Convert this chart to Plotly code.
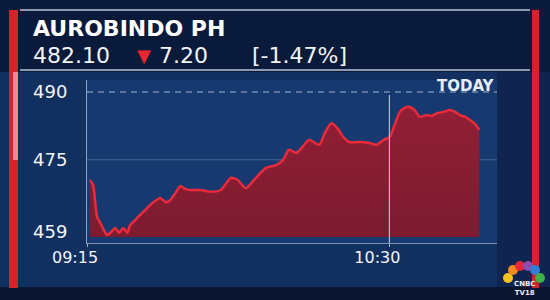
import plotly.graph_objects as go

# ---- data ----
stock_name = "AUROBINDO PH"
last_price = "482.10"
change = "7.20"
change_pct = "[-1.47%]"
period_label = "TODAY"

minutes = [0.7, 1.5, 2.5, 3.2, 4.2, 5.0, 6.0, 7.0, 8.0, 9.0, 10.0, 10.7, 12.0, 13.2, 14.5,
           15.7, 17.0, 18.2, 19.5, 20.7, 21.9, 23.2, 24.4, 25.7, 28.2, 30.7, 33.2, 35.7,
           37.4, 39.4, 41.9, 44.4, 46.9, 48.6, 50.1, 51.9, 53.6, 55.1, 57.6, 59.1, 60.6,
           62.1, 63.6, 65.1, 66.8, 68.6, 70.1, 71.8, 73.6, 75.1, 76.3, 77.6, 78.8, 80.0,
           81.3, 82.5, 84.3, 85.5, 86.8, 88.5, 90.0, 91.3, 92.5, 93.8, 95.0, 96.3, 97.3]
prices = [470.5, 469.4, 462.3, 461.2, 459.4, 458.3, 459.0, 459.9, 458.8, 459.9, 458.8, 460.5,
          461.7, 462.8, 463.9, 465.0, 465.9, 466.5, 465.6, 466.1, 467.6, 469.2, 468.5, 468.3,
          468.3, 467.9, 468.3, 471.0, 470.5, 468.7, 471.0, 473.2, 473.8, 474.9, 477.2, 476.5,
          478.0, 479.4, 478.3, 481.1, 483.1, 482.0, 480.0, 478.9, 478.9, 478.9, 478.7, 478.3,
          479.4, 480.0, 482.7, 485.6, 486.5, 486.7, 486.0, 484.5, 484.9, 484.7, 485.3, 485.6,
          486.0, 485.6, 484.9, 484.5, 483.8, 482.9, 481.6]
fill_base = 457.9

y_ticks = [490, 475, 459]
x_ticks = [0, 75]
x_tick_labels = ["09:15", "10:30"]
ref_level = 490
ref_time = 75

# ---- geometry helpers (paper coords) ----
L, R, T, B = 87, 497, 80, 243
W, H = 550, 300
def px(x):
    return (x - L) / (R - L)
def py(y):
    return (B - y) / (B - T)

FONT = "DejaVu Sans, Verdana, sans-serif"

fig = go.Figure()

fig.add_trace(go.Scatter(x=minutes, y=[fill_base] * len(minutes), mode="lines",
                         line=dict(width=0), hoverinfo="skip", showlegend=False))
fig.add_trace(go.Scatter(
    x=minutes, y=prices, mode="lines", fill="tonexty",
    line=dict(color="#ec2a3a", width=2.5, shape="spline", smoothing=0.6),
    fillgradient=dict(type="vertical",
                      colorscale=[[0, "#7c1b30"], [1, "#921f35"]]),
    showlegend=False))

shapes = [
    # header band
    dict(type="rect", xref="paper", yref="paper", x0=px(0), x1=px(550), y0=py(72), y1=py(0),
         fillcolor="#0a1a3a", line=dict(width=0), layer="below"),
    dict(type="line", xref="paper", yref="paper", x0=px(20), x1=px(530), y0=py(10), y1=py(10),
         line=dict(color="#b9c4d6", width=1.5)),
    dict(type="line", xref="paper", yref="paper", x0=px(20), x1=px(530), y0=py(70), y1=py(70),
         line=dict(color="#b9c4d6", width=1.5)),
    # darker right area
    dict(type="rect", xref="paper", yref="paper", x0=px(497), x1=px(550), y0=py(287), y1=py(72),
         fillcolor="#0f2550", line=dict(width=0), layer="below"),
    # bottom band
    dict(type="rect", xref="paper", yref="paper", x0=px(0), x1=px(550), y0=py(300), y1=py(287),
         fillcolor="#0a1530", line=dict(width=0), layer="below"),
    # red side bars
    dict(type="rect", xref="paper", yref="paper", x0=px(9), x1=px(18), y0=py(288), y1=py(10),
         fillcolor="#d3232d", line=dict(width=0)),
    dict(type="rect", xref="paper", yref="paper", x0=px(532), x1=px(539), y0=py(288), y1=py(10),
         fillcolor="#d3232d", line=dict(width=0)),
    dict(type="rect", xref="paper", yref="paper", x0=px(13), x1=px(18), y0=py(160), y1=py(72),
         fillcolor="#f08a8f", line=dict(width=0)),
    # reference dashed level
    dict(type="line", xref="paper", yref="y", x0=0, x1=1, y0=ref_level, y1=ref_level,
         line=dict(color="#9fb0cc", width=1.2, dash="6px,5px")),
    # reference vertical time line
    dict(type="line", xref="x", yref="paper", x0=ref_time, x1=ref_time, y0=0, y1=py(95),
         line=dict(color="#c9d3e3", width=1)),
]

# peacock logo feathers
feather_colors = ["#f6c21c", "#f28a1e", "#e2283a", "#8a4fb0", "#2f7fd6", "#3fb04a"]
cx, cy = 524, 281
offsets = [(-16, -3), (-11, -11), (-4, -15), (4, -15), (11, -11), (16, -3)]
for col, (dx, dy) in zip(feather_colors, offsets):
    shapes.append(dict(type="circle", xref="paper", yref="paper",
                       x0=px(cx + dx - 5), x1=px(cx + dx + 5),
                       y0=py(cy + dy + 5), y1=py(cy + dy - 5),
                       fillcolor=col, line=dict(width=0)))

annotations = [
    dict(text=stock_name, xref="paper", yref="paper", x=px(31), y=py(28), xanchor="left",
         yanchor="middle", showarrow=False,
         font=dict(family=FONT, size=22, color="#ffffff", weight="bold")),
    dict(text=last_price, xref="paper", yref="paper", x=px(31), y=py(56), xanchor="left",
         yanchor="middle", showarrow=False, font=dict(family=FONT, size=22, color="#f2f4f8")),
    dict(text="▼", xref="paper", yref="paper", x=px(135), y=py(56), xanchor="left",
         yanchor="middle", showarrow=False, font=dict(family=FONT, size=18, color="#e8262f")),
    dict(text=change, xref="paper", yref="paper", x=px(157), y=py(56), xanchor="left",
         yanchor="middle", showarrow=False, font=dict(family=FONT, size=22, color="#f2f4f8")),
    dict(text=change_pct, xref="paper", yref="paper", x=px(250), y=py(56), xanchor="left",
         yanchor="middle", showarrow=False, font=dict(family=FONT, size=22, color="#f2f4f8")),
    dict(text=period_label, xref="paper", yref="paper", x=px(497), y=py(86), xanchor="right",
         yanchor="middle", showarrow=False,
         font=dict(family=FONT, size=15, color="#e8edf5", weight="bold")),
    dict(text="CNBC<br>TV18", xref="paper", yref="paper", x=px(524), y=py(299), xanchor="center",
         yanchor="bottom", showarrow=False,
         font=dict(family=FONT, size=7, color="#e8edf5", weight="bold")),
]

fig.update_layout(
    width=W, height=H,
    margin=dict(l=L, r=W - R, t=T, b=H - B, pad=0),
    paper_bgcolor="#11305f",
    plot_bgcolor="#163a70",
    shapes=shapes,
    annotations=annotations,
    xaxis=dict(range=[0, 101.7], tickvals=x_ticks, ticktext=x_tick_labels,
               showgrid=False, zeroline=False, showline=True, linecolor="#7f93b5",
               linewidth=1, ticks="outside", ticklen=3, tickcolor="#9fb0cc",
               ticklabelshift=-12, ticklabelstandoff=-3,
               tickfont=dict(family=FONT, size=16, color="#f2f4f8")),
    yaxis=dict(range=[456.56, 492.66], tickvals=y_ticks, ticks="", showgrid=False,
               zeroline=False, showline=True, linecolor="#8ea2c4", linewidth=1,
               ticklabelstandoff=15,
               tickfont=dict(family=FONT, size=18, color="#f2f4f8")),
)
fig.add_shape(type="line", xref="paper", yref="y", x0=0, x1=1, y0=y_ticks[1], y1=y_ticks[1],
              line=dict(color="rgba(150,170,210,0.35)", width=1), layer="below")

fig.write_html("out.html")
